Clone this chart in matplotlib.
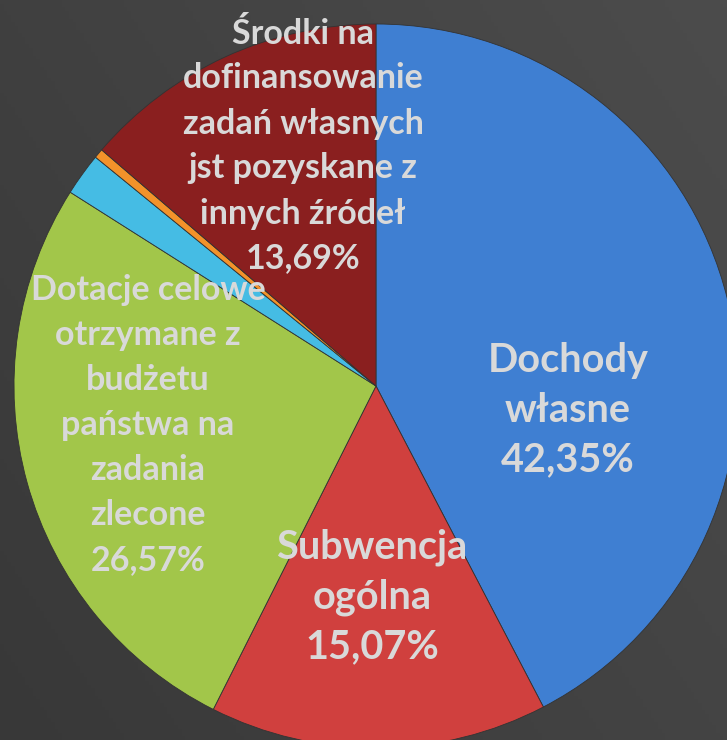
import numpy as np
import matplotlib.pyplot as plt
from matplotlib.colors import LinearSegmentedColormap

# Struktura dochodów
labels = ["Dochody\nwłasne", "Subwencja\nogólna",
          "Dotacje celowe\notrzymane z\nbudżetu\npaństwa na\nzadania\nzlecone",
          "Inne", "Pozostałe",
          "Środki na\ndofinansowanie\nzadań własnych\njst pozyskane z\ninnych źródeł"]
shares = [42.35, 15.07, 26.57, 1.90, 0.42, 13.69]
colors = ["#3f7fd2", "#d0403e", "#a2c64a", "#45bce4", "#f3922a", "#8a1f1f"]
show_label = [True, True, True, False, False, True]

W, H = 727, 740
fig = plt.figure(figsize=(W / 100, H / 100), dpi=100)
ax = fig.add_axes([0, 0, 1, 1])

# dark background with a soft gradient
bg = LinearSegmentedColormap.from_list("bg", ["#383838", "#4c4c4c"])
X, Y = np.meshgrid(np.linspace(0, 1, 200), np.linspace(0, 1, 200))
ax.imshow(0.6 * X + 0.4 * Y, extent=[0, W, 0, H], origin="lower", cmap=bg,
          vmin=0, vmax=1, aspect="auto", zorder=0)

cx, cy, r = 376, H - 386, 362
wedges, _ = ax.pie(shares, colors=colors, startangle=90, counterclock=False,
                   center=(cx, cy), radius=r, frame=True,
                   wedgeprops=dict(edgecolor="#333333", linewidth=0.6))
ax.set_xlim(0, W)
ax.set_ylim(0, H)
ax.set_aspect("equal")
ax.axis("off")

# label anchor offsets from the pie centre (layout only)
offsets = [(192, -24), (-4, -211), (-228, -39), None, None, (-73, 240)]
sizes = [28.5, 28.5, 24.5, 0, 0, 24.5]
spacing = [1.42, 1.42, 1.5, 0, 0, 1.5]

for lab, val, show, off, fs, ls in zip(labels, shares, show_label, offsets, sizes, spacing):
    if not show:
        continue
    txt = lab + "\n" + f"{val:.2f}".replace(".", ",") + "%"
    ax.text(cx + off[0], cy + off[1], txt, ha="center", va="center",
            fontsize=fs, fontweight="bold", color="#d9d9d9",
            family=["Lato", "DejaVu Sans"], linespacing=ls, zorder=5)

plt.savefig("out.png", dpi=100)
